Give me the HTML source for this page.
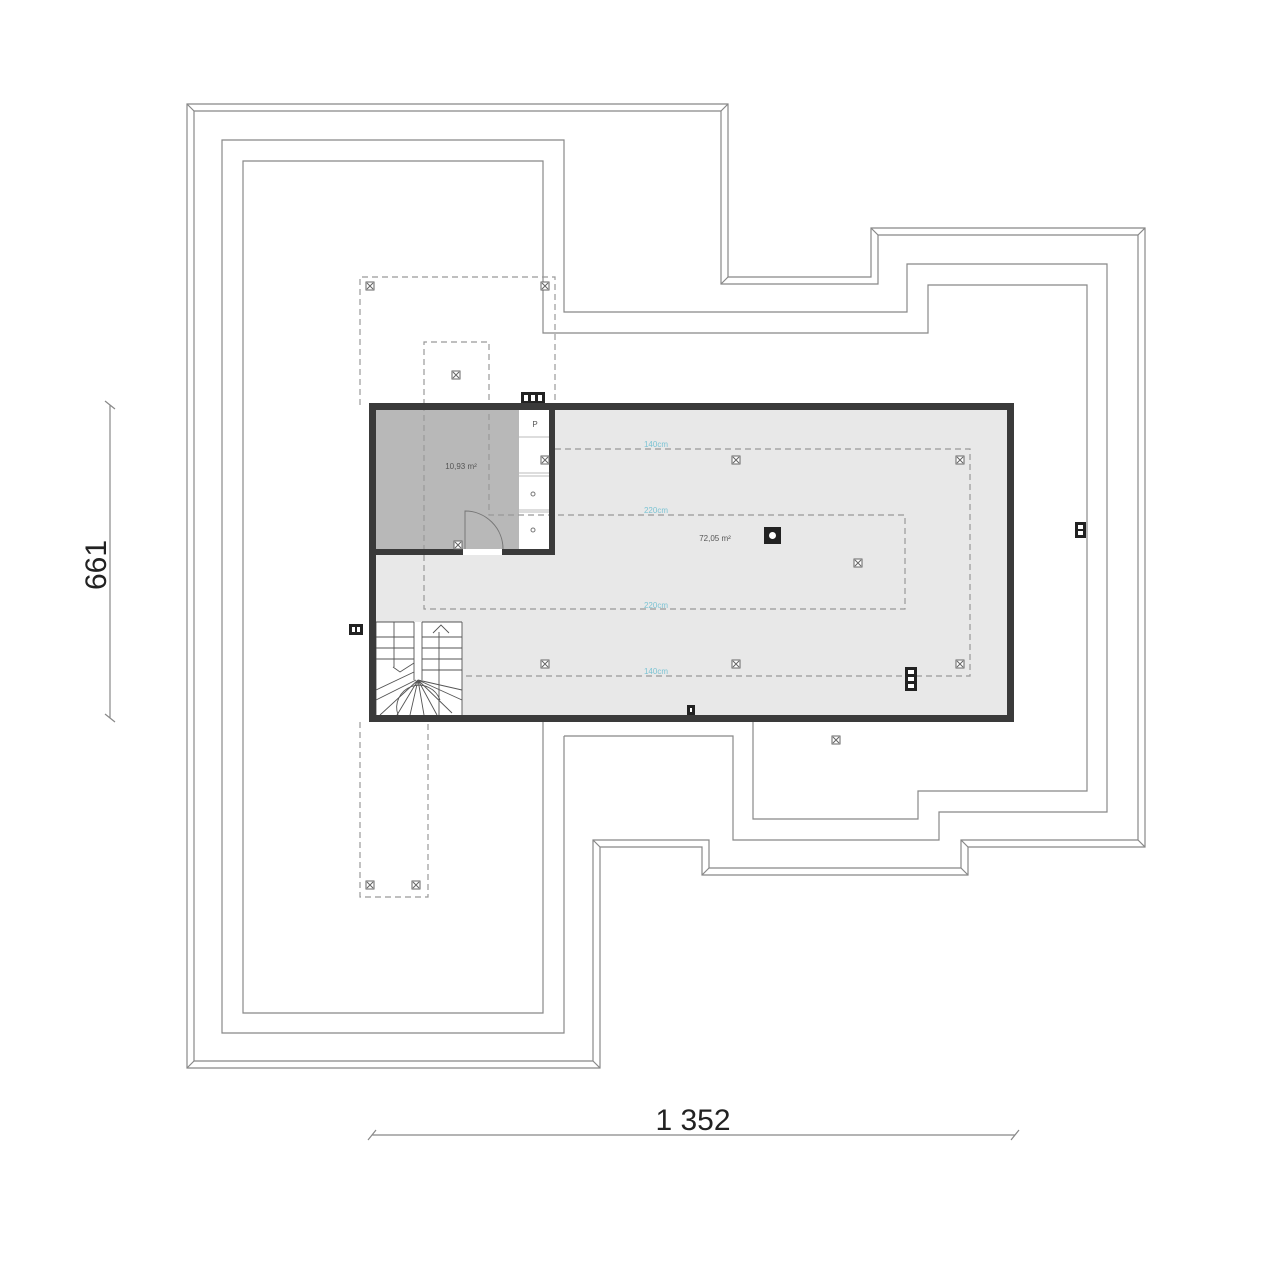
<!DOCTYPE html>
<html><head><meta charset="utf-8"><style>
html,body{margin:0;padding:0;background:#fff;}
svg{display:block;}
</style></head><body>
<svg width="1280" height="1268" viewBox="0 0 1280 1268" xmlns="http://www.w3.org/2000/svg">
<defs>
<g id="mk"><rect x="-4" y="-4" width="8" height="8" fill="#fff" stroke="#666" stroke-width="1"/><path d="M-3,-3L3,3M3,-3L-3,3" stroke="#666" stroke-width="1"/></g>
</defs>
<rect width="1280" height="1268" fill="#fff"/>
<g fill="none" stroke="#888" stroke-width="1.2">
<polygon points="187,104 728,104 728,277 871,277 871,228 1145,228 1145,847 968,847 968,875 702,875 702,847 600,847 600,1068 187,1068"/>
<polygon points="194,111 721,111 721,284 878,284 878,235 1138,235 1138,840 961,840 961,868 709,868 709,840 593,840 593,1061 194,1061"/>
<polyline points="564,736 564,1033 222,1033 222,140 564,140 564,312 907,312 907,264 1107,264 1107,812 939,812 939,840 733,840 733,736 564,736"/>
<polyline points="543,720 543,1013 243,1013 243,161 543,161 543,333 928,333 928,285 1087,285 1087,791 918,791 918,819 753,819 753,720"/>
<path d="M187,104L194,111M728,104L721,111M1145,228L1138,235M871,228L878,235M1145,847L1138,840M968,875L961,868M702,875L709,868M600,1068L593,1061M187,1068L194,1061M728,277L721,284M600,847L593,840M968,847L961,840"/>
</g>
<!-- dashed outside building -->
<g fill="none" stroke="#999" stroke-width="1.2" stroke-dasharray="6,4">
<polyline points="360,405 360,277 555,277 555,405"/>
<polyline points="360,722 360,897 428,897 428,722"/>
<polyline points="424,405 424,342 489,342 489,405"/>
</g>
<!-- building -->
<rect x="369" y="403" width="645" height="319" fill="#e8e8e8"/>
<rect x="376" y="410" width="143" height="139" fill="#b8b8b8"/>
<rect x="519" y="410" width="30" height="139" fill="#fff"/>
<g stroke="#bbb" stroke-width="1" fill="none">
<path d="M519,437H549M519,473H549M519,476H549M519,510H549M519,512H549"/>
</g>
<text x="535" y="427" font-family="Liberation Sans, sans-serif" font-size="8" fill="#555" text-anchor="middle">P</text>
<circle cx="533" cy="494" r="2" fill="none" stroke="#777"/>
<circle cx="533" cy="530" r="2" fill="none" stroke="#777"/>
<rect x="463" y="549" width="39" height="6" fill="#fff"/>
<path d="M465,549V511A38,38 0 0 1 503,549" fill="none" stroke="#777" stroke-width="1"/>
<!-- stairs -->
<rect x="376" y="622" width="86" height="93" fill="#fff"/>
<g stroke="#555" stroke-width="0.9" fill="none">
<path d="M376,622H414M422,622H462M376,637H414M376,648H414M376,659H414M422,637H462M422,648H462M422,659H462M422,670H462"/>
<path d="M414,622V680M422,622V680M394,622V667M439,632V715M376,622V715M462,622V715"/>
<path d="M433,633L441,625L449,633"/>
<path d="M376,690L414,672M376,700L416,680M393,667L400,672L414,663"/>
<path d="M418,680L380,715M418,680L397,715M418,680L410,715M418,680L424,715M418,680L437,715M418,680L452,713M418,680L462,700M418,680L462,690"/>
<path d="M398,715A22,22 0 0 1 440,700"/>
</g>
<!-- dashed inside -->
<g fill="none" stroke="#999" stroke-width="1.2" stroke-dasharray="6,4">
<polyline points="424,405 424,609 905,609 905,515 489,515 489,405"/>
<polyline points="555,449 970,449 970,676 462,676"/>
</g>
<g font-family="Liberation Sans, sans-serif" font-size="8" fill="#7cc4d4" text-anchor="middle">
<text x="656" y="447">140cm</text>
<text x="656" y="513">220cm</text>
<text x="656" y="608">220cm</text>
<text x="656" y="674">140cm</text>
</g>
<!-- walls -->
<g fill="#3a3a3a">
<rect x="369" y="403" width="645" height="7"/>
<rect x="369" y="715" width="645" height="7"/>
<rect x="369" y="403" width="7" height="319"/>
<rect x="1007" y="403" width="7" height="319"/>
<rect x="549" y="403" width="6" height="152"/>
<rect x="376" y="549" width="87" height="6"/>
<rect x="502" y="549" width="53" height="6"/>
</g>
<g font-family="Liberation Sans, sans-serif" font-size="8" fill="#555" text-anchor="middle">
<text x="461" y="469">10,93 m²</text>
<text x="715" y="541">72,05 m²</text>
</g>
<!-- markers -->
<use href="#mk" x="370" y="286"/><use href="#mk" x="545" y="286"/><use href="#mk" x="456" y="375"/>
<use href="#mk" x="545" y="460"/><use href="#mk" x="736" y="460"/><use href="#mk" x="960" y="460"/>
<use href="#mk" x="858" y="563"/><use href="#mk" x="545" y="664"/><use href="#mk" x="736" y="664"/>
<use href="#mk" x="960" y="664"/><use href="#mk" x="836" y="740"/><use href="#mk" x="370" y="885"/>
<use href="#mk" x="416" y="885"/><use href="#mk" x="458" y="545"/>
<!-- dark icons -->
<rect x="764" y="527" width="17" height="17" fill="#222"/><circle cx="772.5" cy="535.5" r="3.5" fill="#fff"/>
<rect x="905" y="667" width="12" height="24" fill="#222"/>
<g fill="#fff"><rect x="908" y="670" width="6" height="4"/><rect x="908" y="677" width="6" height="4"/><rect x="908" y="684" width="6" height="4"/></g>
<rect x="521" y="392" width="24" height="11" fill="#222"/>
<g fill="#fff"><rect x="524" y="395" width="4" height="6"/><rect x="531" y="395" width="4" height="6"/><rect x="538" y="395" width="4" height="6"/></g>
<rect x="349" y="624" width="14" height="11" fill="#222"/>
<g fill="#fff"><rect x="352" y="627" width="3" height="5"/><rect x="357" y="627" width="3" height="5"/></g>
<rect x="1075" y="522" width="11" height="16" fill="#222"/>
<g fill="#fff"><rect x="1078" y="525" width="5" height="4"/><rect x="1078" y="531" width="5" height="4"/></g>
<rect x="687" y="705" width="8" height="10" fill="#222"/><rect x="690" y="708" width="2" height="4" fill="#fff"/>
<!-- dimensions -->
<g stroke="#888" stroke-width="1.2">
<path d="M110,405V718M105,401L115,409M105,714L115,722"/>
<path d="M372,1135H1015M368,1140L376,1130M1011,1140L1019,1130"/>
</g>
<text transform="translate(106,565) rotate(-90)" font-family="Liberation Sans, sans-serif" font-size="30" fill="#222" text-anchor="middle">661</text>
<text x="693" y="1130" font-family="Liberation Sans, sans-serif" font-size="30" fill="#222" text-anchor="middle">1 352</text>
</svg>
</body></html>
